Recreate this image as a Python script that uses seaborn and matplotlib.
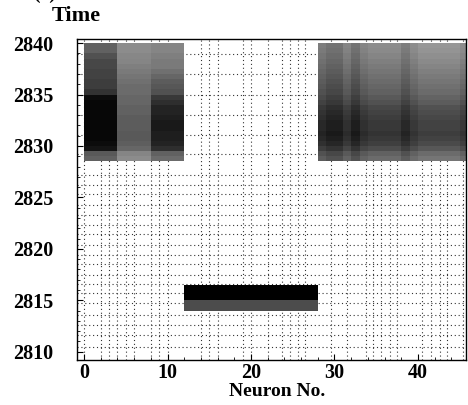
import numpy as np
import pandas as pd
import seaborn as sns
import matplotlib
matplotlib.use("Agg")
import matplotlib.pyplot as plt

# --- data ---
n_neurons = 46
row_step = 0.5
row_top = 2840.5
row_bottom = 2809.0

# active block at the top (time span) and the bar at the bottom
block_span = (2828.5, 2840.0)
bar_black_span = (2815.0, 2816.5)
bar_gray_span = (2814.0, 2815.0)
bar_neurons = (12, 28)
bar_black_level = 1.0
bar_gray_level = 0.7

# left block: three groups of neurons, intensity per half-unit row (top -> bottom)
left_groups = [(0, 4), (4, 8), (8, 12)]
left_profiles = [
    [0.62, 0.62, 0.68, 0.72, 0.72, 0.74, 0.74, 0.76, 0.76, 0.80, 0.95, 0.97,
     0.97, 0.97, 0.97, 0.97, 0.97, 0.97, 0.97, 0.95, 0.92, 0.65, 0.62],
    [0.45, 0.45, 0.47, 0.48, 0.50, 0.52, 0.54, 0.56, 0.58, 0.58, 0.60, 0.60,
     0.62, 0.62, 0.64, 0.64, 0.64, 0.65, 0.65, 0.63, 0.60, 0.48, 0.45],
    [0.48, 0.48, 0.50, 0.52, 0.52, 0.56, 0.60, 0.64, 0.66, 0.68, 0.78, 0.82,
     0.86, 0.86, 0.88, 0.90, 0.90, 0.88, 0.88, 0.86, 0.82, 0.62, 0.58],
]

# right block: neurons 28..45
right_neurons = (28, 46)
right_profile = [0.45, 0.46, 0.48, 0.50, 0.52, 0.54, 0.56, 0.58, 0.60, 0.62, 0.65, 0.68,
                 0.72, 0.74, 0.76, 0.78, 0.78, 0.80, 0.78, 0.75, 0.70, 0.62, 0.58]
right_offsets = [0.06, 0.10, 0.10, 0.03, 0.10, 0.03, 0.00, 0.00, 0.00, 0.00,
                 0.06, 0.00, -0.04, -0.04, -0.04, -0.04, -0.04, 0.00]

# sparse spike trains (dotted lines)
spike_neurons = [0, 2, 3, 4, 5, 6, 8, 9, 10, 14, 15, 16, 19, 20, 22, 23.7, 24.7,
                 25.6, 26.5, 29.6, 31.5, 33.8, 34.6, 35.6, 36.7, 37.5, 40.5,
                 41.6, 42.6, 43.5, 45.4]
spike_times = [2810.5, 2811.6, 2812.6, 2813.6, 2814.7, 2815.7, 2816.6, 2817.5,
               2818.5, 2819.4, 2820.4, 2821.4, 2822.3, 2823.3, 2824.3, 2825.3,
               2826.2, 2827.2, 2829.2, 2831.1, 2833.0, 2835.0, 2837.0, 2838.9]

x_ticks = [0, 10, 20, 30, 40]
y_ticks = [2810, 2815, 2820, 2825, 2830, 2835, 2840]

# --- build the activity table ---
upper = np.arange(row_top, row_bottom, -row_step)
lower = upper - row_step
mat = np.full((len(upper), n_neurons), np.nan)


def rows_in(span):
    return (lower >= span[0] - 1e-9) & (upper <= span[1] + 1e-9)


blk = rows_in(block_span)
for (lo, hi), prof in zip(left_groups, left_profiles):
    mat[np.ix_(blk, np.arange(lo, hi))] = np.array(prof)[:, None]
rb = np.clip(np.array(right_profile)[:, None] + np.array(right_offsets)[None, :], 0, 1)
mat[np.ix_(blk, np.arange(*right_neurons))] = rb
mat[np.ix_(rows_in(bar_black_span), np.arange(*bar_neurons))] = bar_black_level
mat[np.ix_(rows_in(bar_gray_span), np.arange(*bar_neurons))] = bar_gray_level

df = pd.DataFrame(mat, index=upper, columns=np.arange(n_neurons))


def t2y(t):
    return (row_top - np.asarray(t)) / row_step


# --- plot ---
plt.rcParams["font.family"] = ["Liberation Serif", "DejaVu Serif"]
plt.rcParams["font.weight"] = "bold"

fig = plt.figure(figsize=(4.68, 4.05), dpi=100)
ax = fig.add_axes([77 / 468, 1 - 360 / 405, (466 - 77) / 468, (360 - 39) / 405])

for n in spike_neurons:
    ax.axvline(n, color="0.2", lw=0.8, ls=(0, (1, 2.5)), zorder=0.5)
for t in spike_times:
    ax.axhline(t2y(t), color="0.2", lw=0.8, ls=(0, (1, 2.5)), zorder=0.5)

sns.heatmap(df, cmap="gray_r", vmin=0, vmax=1, cbar=False, ax=ax,
            xticklabels=False, yticklabels=False)

ax.set_xlim(-0.84, 45.75)
ax.set_ylim(t2y(2809.2), t2y(2840.4))
ax.set_xlabel("")
ax.set_ylabel("")
for s in ax.spines.values():
    s.set_visible(True)
    s.set_color("black")
    s.set_linewidth(1.0)

ax.set_xticks(x_ticks)
ax.set_xticklabels([str(v) for v in x_ticks], fontsize=14.5, fontweight="bold")
ax.set_yticks(t2y(y_ticks))
ax.set_yticklabels([str(v) for v in y_ticks], fontsize=14.5, fontweight="bold", rotation=0)
ax.set_yticks(t2y(np.arange(2810, 2841, 1)), minor=True)
ax.set_xticks(np.arange(0, 46, 2), minor=True)
ax.tick_params(axis="both", which="major", direction="in", length=4, width=0.8)
ax.tick_params(axis="both", which="minor", direction="in", length=2, width=0.6)
ax.tick_params(axis="y", which="major", pad=17)
ax.tick_params(axis="x", which="major", pad=2)

fig.text(76 / 468, 1 - 16 / 405, "Time", ha="center", va="center",
         fontsize=16, fontweight="bold")
fig.text(277 / 468, 1 - 383 / 405, "Neuron No.", ha="center", va="top",
         fontsize=14, fontweight="bold")
fig.text(45 / 468, 1 - 3 / 405, "(a)", ha="center", va="bottom",
         fontsize=14, fontweight="bold")

fig.savefig("out.png", dpi=100)
